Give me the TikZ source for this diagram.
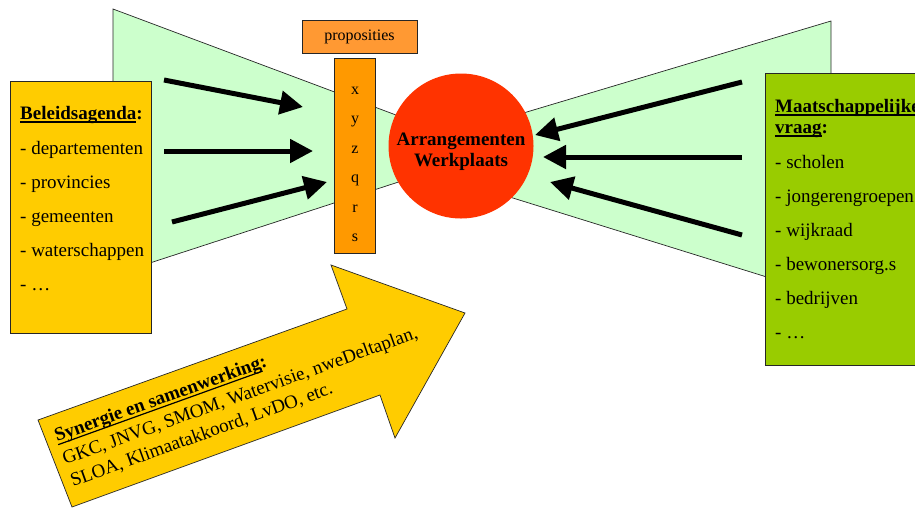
\documentclass[tikz,border=0pt]{standalone}
\usepackage{fontspec}
\setmainfont{Liberation Serif}
\usetikzlibrary{
  arrows.meta,
  positioning
}
\definecolor{fanGreen}{HTML}{CCFFCC}
\definecolor{agendaGold}{HTML}{FFCC00}
\definecolor{vraagGreen}{HTML}{99CC00}
\definecolor{propOrange}{HTML}{FF9933}
\definecolor{barOrange}{HTML}{FF9900}
\definecolor{hubRed}{HTML}{FF3300}
\newsavebox\ulbox
\newcommand{\wordline}[1]{\sbox\ulbox{#1}\rlap{\rule[-3.5pt]{\wd\ulbox}{1.2pt}}\usebox\ulbox}
\tikzset{
  every node/.style={font=\fontsize{19}{22}\selectfont},
  fan/.style={draw=black!85, fill=fanGreen, line width=0.7pt},
  listbox/.style={draw=black!85, line width=0.8pt, anchor=north west, inner sep=0pt},
  item/.style={anchor=base west, inner sep=0pt},
  letter/.style={anchor=base, inner sep=0pt, font=\fontsize{16}{18}\selectfont},
  push/.style={line width=5pt, -{Triangle[length=23pt,width=23pt]}},
  hub/.style={circle, fill=hubRed, minimum size=145pt, inner sep=0pt}
}

\begin{document}
\begin{tikzpicture}[x=1pt, y=-1pt]
    \useasboundingbox (0,0) rectangle (915,507);
    % fans
    \draw[fan] (113,9) -- (113,275) -- (420,175) -- (420,124) -- cycle;
    \draw[fan] (831,21) -- (831,297) -- (500,194) -- (500,120) -- cycle;
    % boxes
    \node[listbox, fill=agendaGold, minimum width=141pt, minimum height=252pt] (agenda) at (10,81) {};
    \node[listbox, fill=vraagGreen, minimum width=165pt, minimum height=292pt] (vraag) at (765,73) {};
    \node[hub] (hub) at (461,146) {};
    \node[align=center, font=\bfseries\fontsize{19}{21}\selectfont] (hublabel) at (461,152) {Arrangementen\\Werkplaats};
    \node[draw=black!85, fill=barOrange, minimum width=41pt, minimum height=195pt, inner sep=0pt] (bar) at (354.5,155.5) {};
    \node[draw=black!85, fill=propOrange, minimum width=115pt, minimum height=33pt, inner sep=0pt,
      font=\fontsize{16}{18}\selectfont] (prop) at (359.5,36.5) {proposities};
    \foreach \ltr [count=\i] in {x,y,z,q,r,s}
      \node[letter] (ltr\i) at (355,64.5+29.5*\i) {\ltr};
    % left list
    \node[item] (agendahead) at (20,119) {\textbf{\wordline{Beleidsagenda}:}};
    \foreach \txt [count=\i] in {departementen,provincies,gemeenten,waterschappen,…}
      \node[item] (agenda\i) at (20,120+34*\i) {- \txt};
    % right list
    \node[item] (vraaghead) at (775,112) {\textbf{\wordline{Maatschappelijke}}};
    \node[item] (vraaghead2) at (775,133) {\textbf{\wordline{vraag}:}};
    \foreach \txt [count=\i] in {scholen,jongerengroepen,wijkraad,bewonersorg.s,bedrijven,…}
      \node[item] (vraag\i) at (775,134+34*\i) {- \txt};
    % arrows in
    \coordinate (inA) at (164,80);   \coordinate (inAtip) at (303,107);
    \coordinate (inB) at (164,151);  \coordinate (inBtip) at (313,151);
    \coordinate (inC) at (172,222);  \coordinate (inCtip) at (327,182);
    \coordinate (outA) at (742,82);  \coordinate (outAtip) at (535,135);
    \coordinate (outB) at (742,157); \coordinate (outBtip) at (543,157);
    \coordinate (outC) at (742,235); \coordinate (outCtip) at (550,182);
    \draw[push] (inA) -- (inAtip);
    \draw[push] (inB) -- (inBtip);
    \draw[push] (inC) -- (inCtip);
    \draw[push] (outA) -- (outAtip);
    \draw[push] (outB) -- (outBtip);
    \draw[push] (outC) -- (outCtip);
    % big arrow
    \draw[draw=black!85, fill=agendaGold, line width=0.7pt]
      (38,420) -- (347,309) -- (331,265) -- (465,313) -- (395,438) -- (380,395) -- (72,507) -- cycle;
    \node[item, rotate=19.8] (syn1) at (57,442) {\textbf{\wordline{Synergie en samenwerking}:}};
    \node[item, rotate=19.8] (syn2) at (65,465) {GKC, JNVG, SMOM, Watervisie, nweDeltaplan,};
    \node[item, rotate=19.8] (syn3) at (73,487) {SLOA, Klimaatakkoord, LvDO, etc.};
\end{tikzpicture}
\end{document}
